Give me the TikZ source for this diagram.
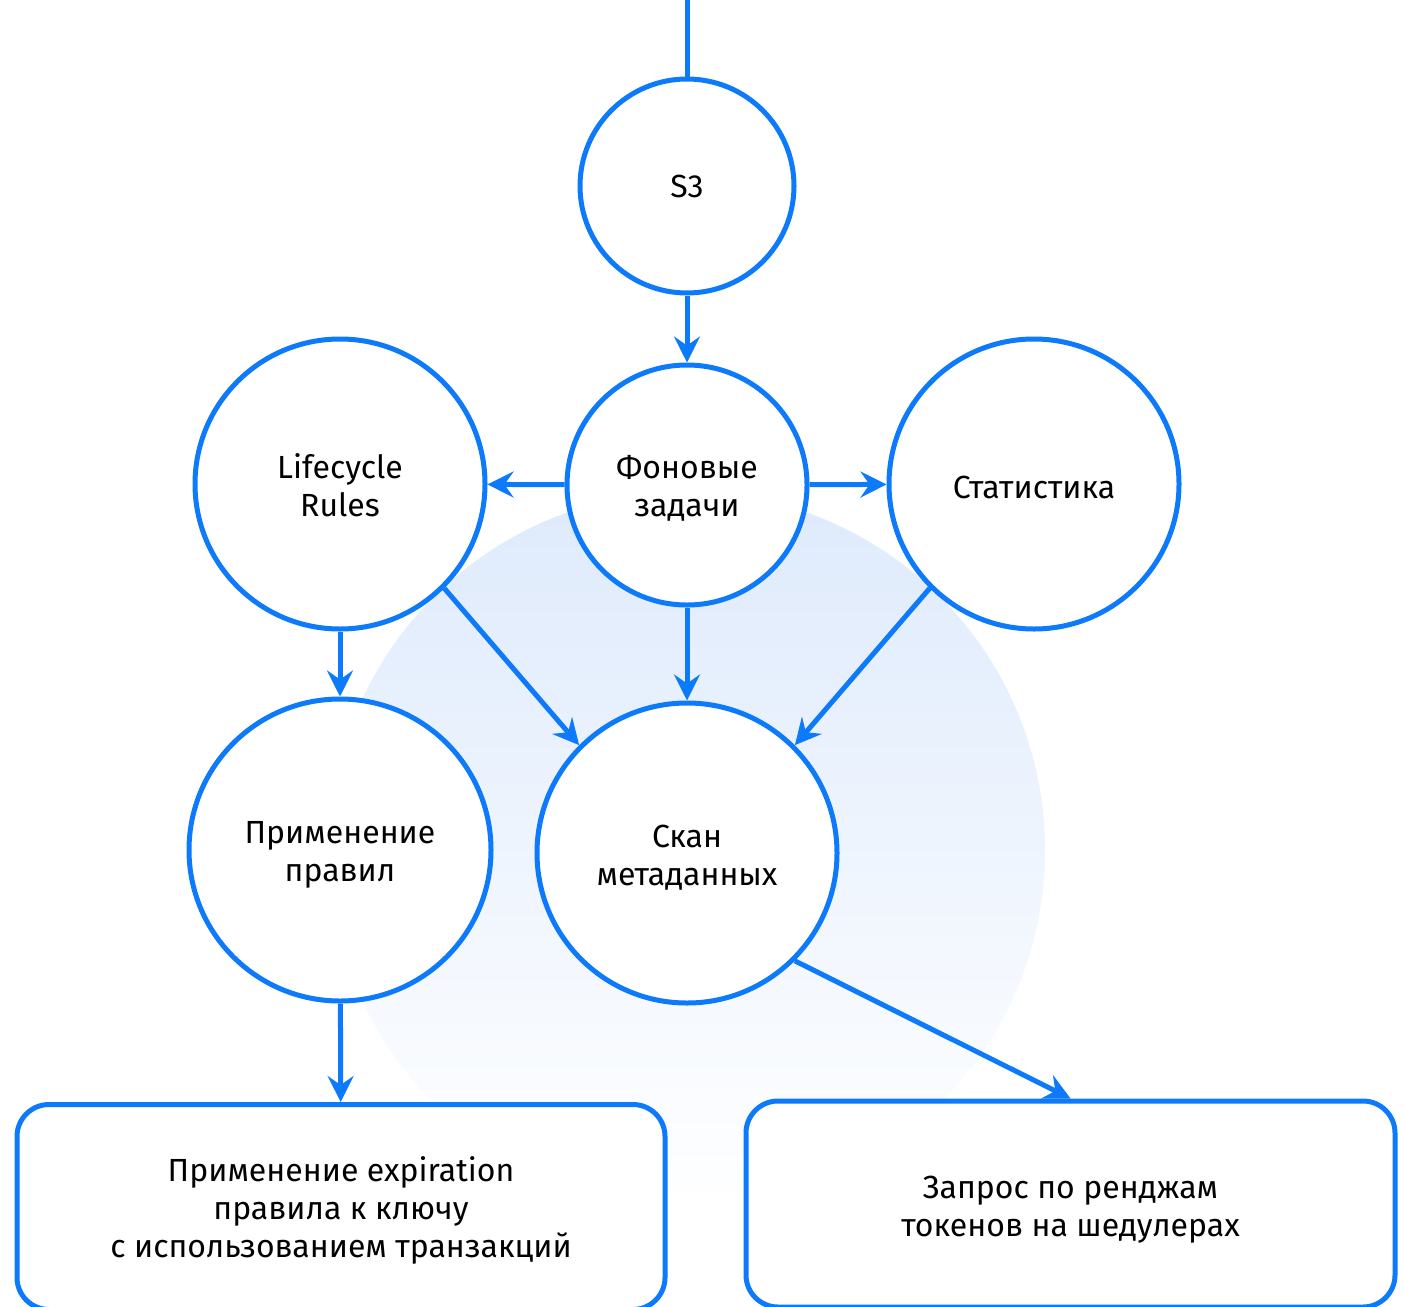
\documentclass[tikz,border=0pt]{standalone}
\usepackage{fontspec}
\setmainfont{Fira Sans}
\usetikzlibrary{arrows.meta}
\definecolor{lineblue}{RGB}{13,122,252}
\definecolor{haze}{RGB}{222,234,252}
\tikzset{
  bubble/.style={circle, draw=lineblue, line width=5pt, fill=white, inner sep=0pt,
    align=center, font=\fontsize{32}{38}\selectfont},
  panel/.style={rectangle, rounded corners=32pt, draw=lineblue, line width=5pt, fill=white,
    inner sep=0pt, align=center, font=\fontsize{32}{38}\selectfont},
  link/.style={draw=lineblue, line width=5pt,
    -{Stealth[length=26pt, width=26pt, inset=9pt]}},
}
% centred lines, lowered a little without changing the box size
\newcommand{\lowlines}[2]{\raisebox{#1}[\height][\depth]{\begin{tabular}{@{}c@{}}#2\end{tabular}}}
\begin{document}
\begin{tikzpicture}[x=1pt, y=-1pt]
\useasboundingbox (0,0) rectangle (1404,1306);
% soft halo behind the lower nodes
\shade[top color=haze, bottom color=white] (687,850) circle (358);

% nodes
\node[bubble, minimum size=214pt] (s3) at (687,186) {S3};
\node[bubble, minimum size=240pt] (bg) at (687,485) {\lowlines{-5pt}{Фоновые\\задачи}};
\node[bubble, minimum size=290pt] (lc) at (340,484) {\lowlines{-6pt}{Lifecycle\\Rules}};
\node[bubble, minimum size=290pt] (st) at (1034,484) {\lowlines{-7pt}{Статистика}};
\node[bubble, minimum size=302pt] (ap) at (340,850) {\lowlines{-5pt}{Применение\\правил}};
\node[bubble, minimum size=300pt] (sc) at (687,853) {\lowlines{-6pt}{Скан\\метаданных}};
\node[panel, minimum width=648pt, minimum height=205pt] (lb) at (341,1207)
  {\lowlines{-5pt}{Применение expiration\\правила к ключу\\с использованием транзакций}};
\node[panel, minimum width=649pt, minimum height=206pt] (rb) at (1070.5,1204)
  {\lowlines{-6pt}{Запрос по ренджам\\токенов на шедулерах}};
\coordinate (in) at (687,0);

% connectors
\draw[draw=lineblue, line width=5pt] (in) -- (s3);
\draw[link] (s3) -- (bg);
\draw[link] (bg) -- (lc);
\draw[link] (bg) -- (st);
\draw[link] (lc) -- (ap);
\draw[link] (lc.-45) -- (sc.135);
\draw[link] (bg) -- (sc);
\draw[link] (st.-135) -- (sc.45);
\draw[link] (ap) -- (lb);
\draw[link] (sc.-45) -- (rb.north);
\end{tikzpicture}
\end{document}
